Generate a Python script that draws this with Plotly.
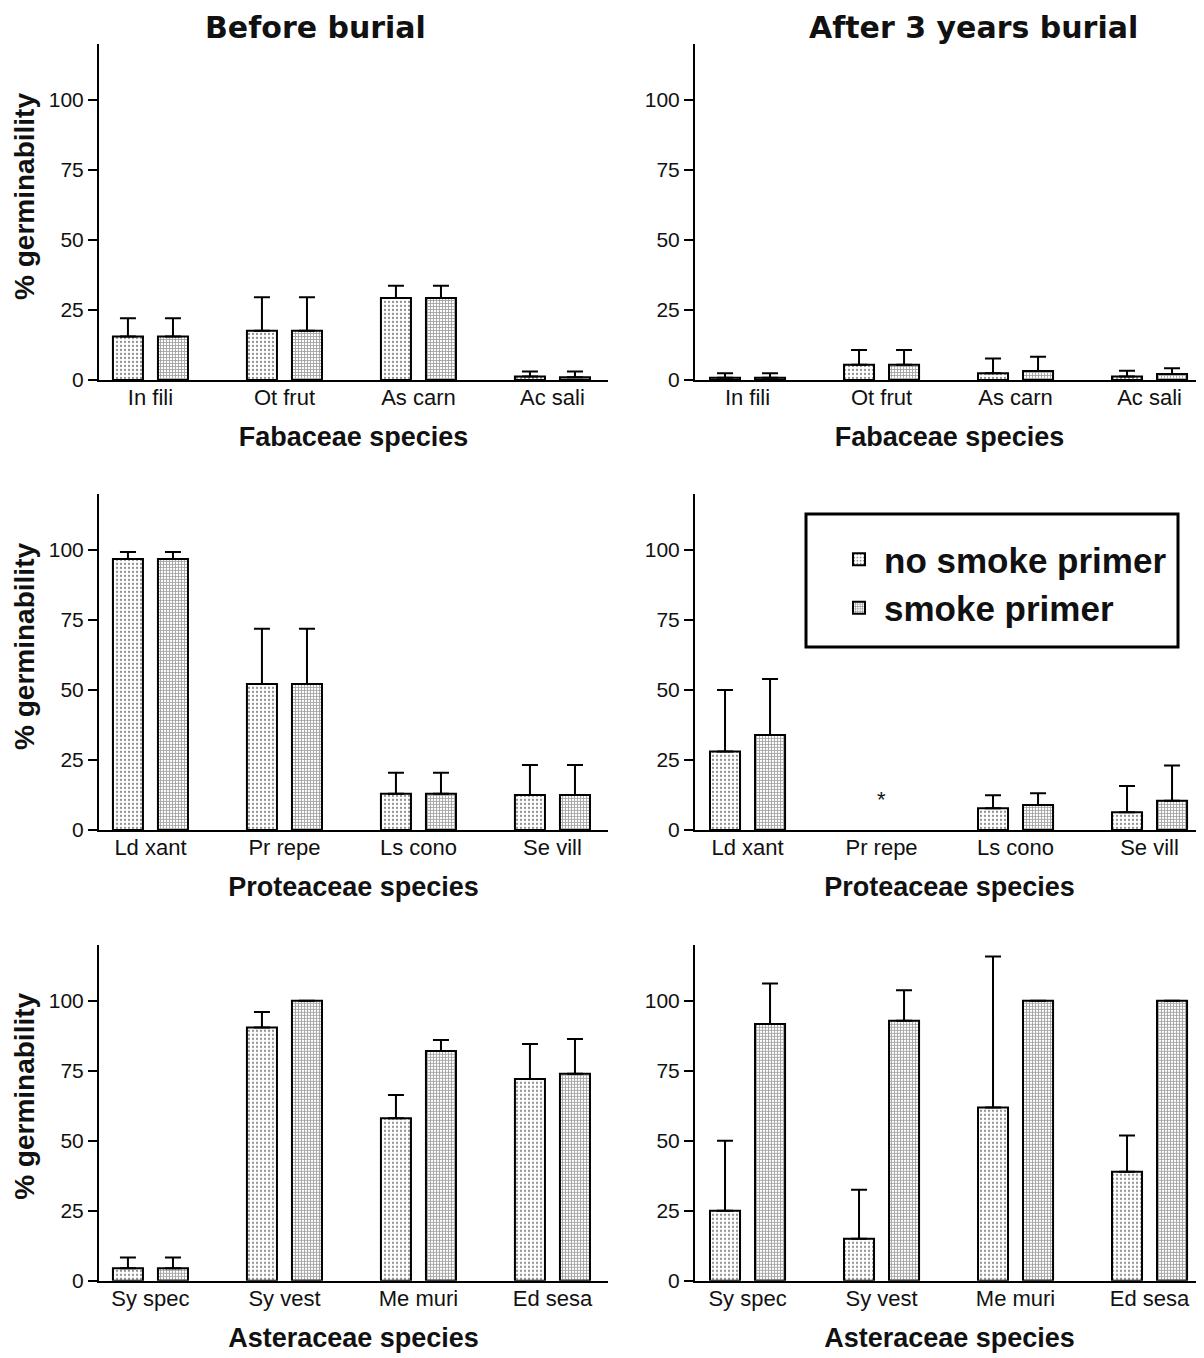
import plotly.graph_objects as go
from plotly.subplots import make_subplots

# ---------------- data ----------------
fab = ["In fili", "Ot frut", "As carn", "Ac sali"]
prot = ["Ld xant", "Pr repe", "Ls cono", "Se vill"]
ast = ["Sy spec", "Sy vest", "Me muri", "Ed sesa"]

# Before burial (no smoke / smoke) means and upper SE
fab_bef_no = [15.5, 17.6, 29.3, 1.2]
fab_bef_no_err = [6.5, 11.9, 4.3, 1.8]
fab_bef_sm = [15.5, 17.6, 29.3, 1.0]
fab_bef_sm_err = [6.5, 11.9, 4.3, 2.0]

prot_bef_no = [96.8, 52.1, 12.9, 12.5]
prot_bef_no_err = [2.5, 19.7, 7.5, 10.7]
prot_bef_sm = [96.8, 52.1, 12.9, 12.5]
prot_bef_sm_err = [2.5, 19.7, 7.5, 10.7]

ast_bef_no = [4.5, 90.5, 58.1, 72.1]
ast_bef_no_err = [3.8, 5.5, 8.3, 12.5]
ast_bef_sm = [4.5, 100.0, 82.1, 74.0]
ast_bef_sm_err = [3.8, 0.0, 3.9, 12.4]

# After 3 years burial
fab_aft_no = [0.8, 5.4, 2.4, 1.2]
fab_aft_no_err = [1.6, 5.3, 5.3, 2.1]
fab_aft_sm = [0.8, 5.4, 3.2, 2.1]
fab_aft_sm_err = [1.6, 5.3, 5.1, 2.1]

prot_aft_no = [28.0, None, 7.7, 6.3]
prot_aft_no_err = [22.0, None, 4.7, 9.4]
prot_aft_sm = [33.9, None, 8.9, 10.4]
prot_aft_sm_err = [20.0, None, 4.2, 12.6]

ast_aft_no = [25.0, 15.0, 61.9, 39.0]
ast_aft_no_err = [25.0, 17.5, 53.9, 12.9]
ast_aft_sm = [91.7, 92.9, 100.0, 100.0]
ast_aft_sm_err = [14.5, 10.9, 0.0, 0.0]

y_ticks = [0, 25, 50, 75, 100]
series_names = ["no smoke primer", "smoke primer"]
col_titles = ["Before burial", "After 3 years burial"]
row_titles = ["Fabaceae species", "Proteaceae species", "Asteraceae species"]
y_title = "% germinability"

panels = [
    # (row, col, cats, no, no_err, sm, sm_err)
    (1, 1, fab, fab_bef_no, fab_bef_no_err, fab_bef_sm, fab_bef_sm_err),
    (1, 2, fab, fab_aft_no, fab_aft_no_err, fab_aft_sm, fab_aft_sm_err),
    (2, 1, prot, prot_bef_no, prot_bef_no_err, prot_bef_sm, prot_bef_sm_err),
    (2, 2, prot, prot_aft_no, prot_aft_no_err, prot_aft_sm, prot_aft_sm_err),
    (3, 1, ast, ast_bef_no, ast_bef_no_err, ast_bef_sm, ast_bef_sm_err),
    (3, 2, ast, ast_aft_no, ast_aft_no_err, ast_aft_sm, ast_aft_sm_err),
]

FONT = "Liberation Sans, Arial, Helvetica, sans-serif"
TFONT = "DejaVu Sans, Liberation Sans, Arial, sans-serif"
OFF = 8                      # page body margin in the browser
VS = 0.992                   # observed vertical scale of the capture
W, H = 1204 - OFF, 1358 - OFF

fig = make_subplots(rows=3, cols=2)

pat_no = dict(shape=".", fgcolor="#222222", bgcolor="white", size=4, solidity=0.25)
pat_sm = dict(shape="+", fgcolor="#444444", bgcolor="white", size=3, solidity=0.5)

first = True
for (r, c, cats, no, no_err, sm, sm_err) in panels:
    for name, vals, errs, pat, grp in [
        (series_names[0], no, no_err, pat_no, "no"),
        (series_names[1], sm, sm_err, pat_sm, "sm"),
    ]:
        fig.add_trace(
            go.Bar(
                x=cats,
                y=vals,
                name=name,
                legendgroup=grp,
                showlegend=first,
                marker=dict(color="white", pattern=pat,
                            line=dict(color="black", width=2)),
                error_y=dict(type="data", symmetric=False, array=errs,
                             arrayminus=[0] * len(errs), color="black",
                             thickness=2, width=8),
            ),
            row=r, col=c,
        )
    first = False


def px_x(p):
    return (p - OFF) / W


def px_y(p):
    return 1 - ((p - OFF) / VS) / H


PPU = 134.0  # pixels per category unit
x_domains = {1: [px_x(99), px_x(608)], 2: [px_x(695), 1.0]}
x_ranges = {1: [-0.384, -0.384 + (608 - 99) / PPU],
            2: [-0.392, -0.392 + (W + OFF - 695) / PPU]}
y_domains = {1: [px_y(380), px_y(44)], 2: [px_y(830), px_y(494)],
             3: [px_y(1281), px_y(945)]}
y_title_centers = {1: 197, 2: 647, 3: 1097}

for i, (r, c, cats, *_rest) in enumerate(panels):
    idx = i + 1
    xa = "xaxis" if idx == 1 else f"xaxis{idx}"
    ya = "yaxis" if idx == 1 else f"yaxis{idx}"
    fig.layout[xa].update(
        domain=x_domains[c], range=x_ranges[c], showline=True,
        linecolor="black", linewidth=2, ticks="", showgrid=False,
        zeroline=False, tickfont=dict(family=FONT, size=22, color="#111"),
        ticklabelstandoff=-3,
        title=dict(text="<b>" + row_titles[r - 1] + "</b>",
                   font=dict(family=FONT, size=27, color="#111"), standoff=18),
    )
    fig.layout[ya].update(
        domain=y_domains[r], range=[0, 120], showline=True, linecolor="black",
        linewidth=2, ticks="outside", ticklen=9, tickwidth=2, tickcolor="black",
        tickvals=y_ticks, showgrid=False, zeroline=False,
        tickfont=dict(family=FONT, size=21, color="#111"),
    )

annotations = [
    dict(text="<b>" + col_titles[0] + "</b>", x=px_x(315), y=1.0,
         xref="paper", yref="paper", xanchor="center", yanchor="top",
         showarrow=False, font=dict(family=TFONT, size=30, color="#111")),
    dict(text="<b>" + col_titles[1] + "</b>", x=px_x(973), y=1.0,
         xref="paper", yref="paper", xanchor="center", yanchor="top",
         showarrow=False, font=dict(family=TFONT, size=30, color="#111")),
    dict(text="*", x="Pr repe", y=11, xref="x4", yref="y4", showarrow=False,
         font=dict(family=FONT, size=22, color="#111")),
]
for r in (1, 2, 3):
    annotations.append(
        dict(text="<b>" + y_title + "</b>", x=px_x(25), y=px_y(y_title_centers[r]),
             xref="paper", yref="paper", xanchor="center", yanchor="middle",
             textangle=-90, showarrow=False,
             font=dict(family=FONT, size=28, color="#111")))

fig.update_layout(
    width=W, height=H,
    margin=dict(l=0, r=0, t=0, b=0),
    paper_bgcolor="white", plot_bgcolor="white",
    barmode="group", bargap=0.328, bargroupgap=0.333,
    font=dict(family=FONT, color="#111"),
    annotations=annotations,
    shapes=[dict(type="rect", xref="paper", yref="paper",
                 x0=px_x(806), x1=px_x(1178), y0=px_y(647), y1=px_y(514),
                 line=dict(color="black", width=3), fillcolor="white",
                 layer="above")],
    legend=dict(x=px_x(834), y=px_y(530), xanchor="left", yanchor="top",
                bgcolor="rgba(0,0,0,0)", borderwidth=0,
                font=dict(family=FONT, size=35, color="#111", weight="bold"),
                tracegroupgap=0, itemwidth=40),
)

fig.write_html("out.html")
